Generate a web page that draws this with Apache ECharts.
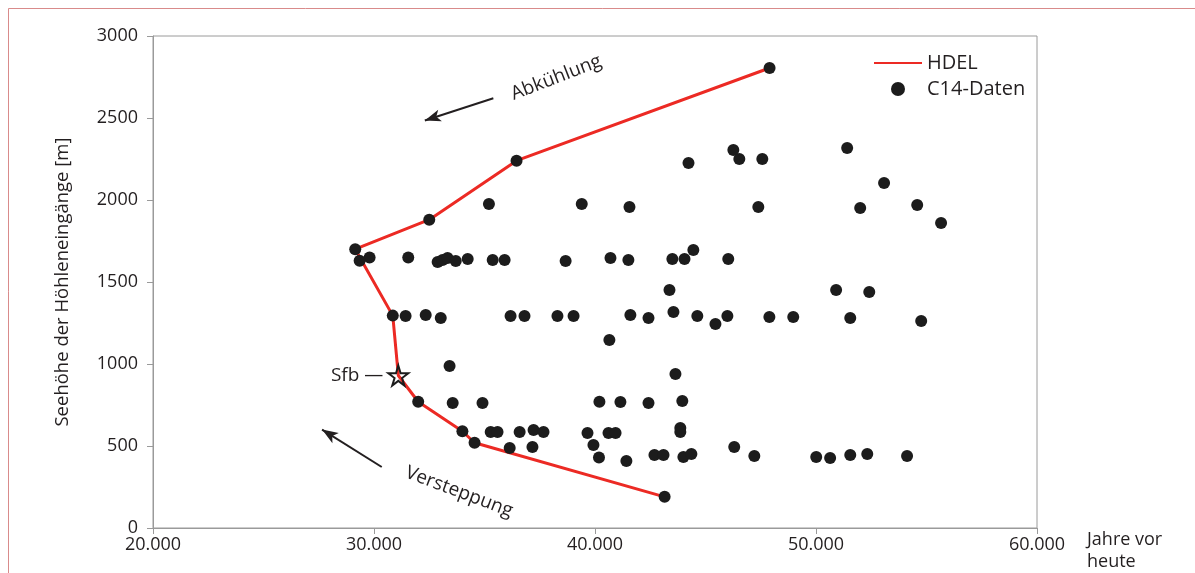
<!DOCTYPE html>
<html>
<head>
<meta charset="utf-8">
<script src="https://cdn.jsdelivr.net/npm/echarts@6/dist/echarts.min.js"></script>
<style>
  html, body { margin: 0; padding: 0; background: #fff; }
  #main { width: 1195px; height: 573px; }
</style>
</head>
<body>
<div id="main"></div>
<script>
// HDEL-Kurve (Jahre vor heute, Seehöhe m)
var hdelYears = [47900, 36450, 32500, 29150, 30850, 31100, 32000, 34000, 34550, 43150];
var hdelHeights = [2805, 2240, 1880, 1700, 1295, 930, 770, 590, 520, 190];

// C14-Daten
var c14Years = [
  47900, 36450, 32500, 29150, 30850, 32000, 34000, 34550, 43150,
  35200, 39400, 29800, 29350, 31550, 32880, 33100, 33330, 33700, 34240, 35370, 35910, 38670,
  44230, 46260, 46530, 47570, 51410, 53080, 54580, 55660, 41560, 47390, 52000,
  40700, 41510, 43500, 44050, 44450, 46030,
  31430, 32340, 33020, 36180, 36810, 38300, 39030,
  33420, 33560, 34910, 35280, 35590, 36590, 37220, 37670, 36140, 37170, 39660, 39930, 40180, 40200,
  43370, 50910, 52410, 41600, 42420, 43550, 44630, 45450, 45990, 47890, 48970, 51550, 54760,
  40650, 43640, 41150, 42420, 43950, 40610, 40930, 43860, 43860,
  41420, 42690, 43100, 44000, 44360, 46300, 47210, 50010, 50640, 51550, 52320, 54120
];
var c14Heights = [
  2805, 2240, 1880, 1700, 1295, 770, 590, 520, 190,
  1975, 1975, 1650, 1630, 1650, 1622, 1634, 1646, 1628, 1640, 1634, 1634, 1628,
  2226, 2305, 2250, 2250, 2317, 2104, 1970, 1860, 1957, 1957, 1951,
  1646, 1634, 1640, 1640, 1695, 1640,
  1293, 1299, 1280, 1293, 1293, 1293, 1293,
  988, 762, 762, 585, 585, 585, 598, 585, 488, 494, 579, 506, 430, 770,
  1451, 1451, 1439, 1299, 1280, 1317, 1293, 1244, 1293, 1287, 1287, 1280, 1262,
  1146, 939, 768, 762, 774, 579, 579, 610, 585,
  408, 445, 445, 433, 451, 494, 439, 433, 427, 445, 451, 439
];

var sfbPoint = [31100, 930];

// Pfeile und Beschriftungen (Datenkoordinaten)
var arrowCooling = [[35400, 2620], [32300, 2485]];
var arrowSteppe = [[30350, 372], [27650, 600]];
var labelCooling = { text: 'Abkühlung', at: [38250, 2745], angle: 0.37 };
var labelSteppe = { text: 'Versteppung', at: [33850, 220], angle: -0.36 };

var font = '"Open Sans", "Noto Sans", sans-serif';
var textColor = '#231f20';

var chart = echarts.init(document.getElementById('main'));

var hdelData = hdelYears.map(function (x, i) { return [x, hdelHeights[i]]; });
var c14Data = c14Years.map(function (x, i) { return [x, c14Heights[i]]; });

var starPath = 'path://M50,0 L61,35 L98,35 L68,57 L79,91 L50,70 L21,91 L32,57 L2,35 L39,35 Z';

var option = {
  backgroundColor: '#fff',
  animation: false,
  textStyle: { fontFamily: font, color: textColor },
  grid: { left: 153, top: 36, right: 158, bottom: 45, show: true, borderColor: '#9a9a9a', borderWidth: 1 },
  legend: {
    orient: 'vertical',
    left: 868,
    top: 48,
    itemWidth: 48,
    itemHeight: 14,
    itemGap: 6,
    textStyle: { fontFamily: font, fontSize: 20, color: textColor },
    data: [
      { name: 'HDEL', itemStyle: { opacity: 0 } },
      { name: 'C14-Daten' }
    ]
  },
  xAxis: {
    type: 'value',
    min: 20000,
    max: 60000,
    interval: 10000,
    name: 'Jahre vor\nheute',
    nameLocation: 'end',
    nameGap: 50,
    nameMoveOverlap: false,
    nameTextStyle: { fontSize: 18, color: textColor, align: 'left', verticalAlign: 'top', lineHeight: 22, padding: [1, 0, 0, 0] },
    axisLine: { lineStyle: { color: '#9a9a9a', width: 1 } },
    axisTick: { show: true, length: 6, lineStyle: { color: '#9a9a9a' } },
    splitLine: { show: false },
    axisLabel: {
      fontSize: 18, color: textColor, margin: 8,
      formatter: function (v) { return String(v).replace(/\B(?=(\d{3})+(?!\d))/g, '.'); }
    }
  },
  yAxis: {
    type: 'value',
    min: 0,
    max: 3000,
    interval: 500,
    name: 'Seehöhe der Höhleneingänge [m]',
    nameLocation: 'middle',
    nameGap: 81,
    nameTextStyle: { fontSize: 18.5, color: textColor },
    axisLine: { show: true, lineStyle: { color: '#9a9a9a', width: 1 } },
    axisTick: { show: true, length: 6, lineStyle: { color: '#9a9a9a' } },
    splitLine: { show: false },
    axisLabel: {
      fontSize: 18, color: textColor, margin: 15,
      formatter: function (v) { return String(v); }
    }
  },
  series: [
    {
      name: 'HDEL',
      type: 'line',
      data: hdelData,
      symbol: 'none',
      color: '#ec2a24',
      lineStyle: { color: '#ec2a24', width: 3 },
      z: 2
    },
    {
      name: 'C14-Daten',
      type: 'scatter',
      data: c14Data,
      symbol: 'circle',
      symbolSize: 12,
      itemStyle: { color: '#1c1c1c', opacity: 1 },
      z: 3,
      markLine: {
        silent: true,
        symbol: ['none', 'arrow'],
        symbolSize: [9, 16],
        lineStyle: { color: '#231f20', width: 2, type: 'solid' },
        label: { show: false },
        data: [
          [{ coord: arrowCooling[0] }, { coord: arrowCooling[1] }],
          [{ coord: arrowSteppe[0] }, { coord: arrowSteppe[1] }]
        ]
      }
    },
    {
      name: 'Sfb',
      type: 'scatter',
      data: [sfbPoint],
      symbol: starPath,
      symbolSize: 20,
      itemStyle: { color: 'rgba(0,0,0,0)', borderColor: '#1c1c1c', borderWidth: 2, opacity: 1 },
      z: 4,
      label: {
        show: true,
        position: 'left',
        distance: 4,
        formatter: 'Sfb \u2014',
        fontSize: 19,
        color: '#231f20',
        opacity: 1,
        fontFamily: font
      }
    }
  ]
};

chart.setOption(option);

function placeLabels() {
  var items = [labelCooling, labelSteppe].map(function (l) {
    var p = chart.convertToPixel({ gridIndex: 0 }, l.at);
    return {
      type: 'text',
      x: p[0],
      y: p[1],
      rotation: l.angle,
      style: {
        text: l.text,
        fontSize: 19,
        fontFamily: font,
        fill: textColor,
        align: 'center',
        verticalAlign: 'middle'
      }
    };
  });
  items.push({
    type: 'rect',
    shape: { x: 8.5, y: 8.5, width: 1300, height: 700 },
    style: { fill: 'none', stroke: '#d98b8b', lineWidth: 1 },
    silent: true
  });
  chart.setOption({ graphic: items });
}
placeLabels();
</script>
</body>
</html>
